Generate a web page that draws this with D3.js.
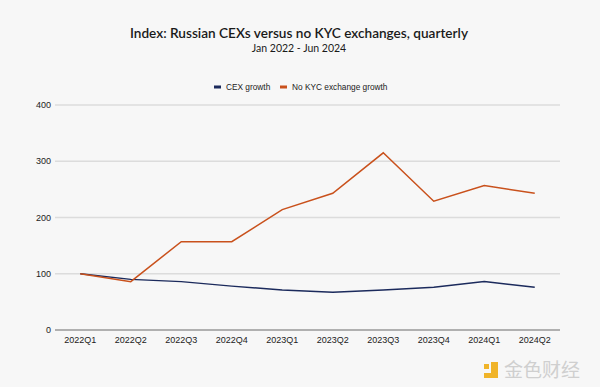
<!DOCTYPE html>
<html>
<head>
<meta charset="utf-8">
<style>
  body { margin: 0; background: #f7f7f7; }
  svg { display: block; font-family: Arial, "Liberation Sans", sans-serif; }
  .grid line { stroke: #dcdcdc; stroke-width: 1.3; }
  .axis text { fill: #222; font-size: 9px; }
  .series { fill: none; stroke-width: 1.5; }
</style>
<script src="https://d3js.org/d3.v7.min.js"></script>
</head>
<body>
<div id="chart"></div>
<script>
var quarters = ["2022Q1", "2022Q2", "2022Q3", "2022Q4", "2023Q1", "2023Q2", "2023Q3", "2023Q4", "2024Q1", "2024Q2"];
var cexGrowth = [100, 90, 86, 78, 71, 67, 71, 76, 86, 76];
var noKycGrowth = [100, 86, 157, 157, 214, 243, 315, 229, 257, 243];
var yTicks = [0, 100, 200, 300, 400];

var width = 600, height = 387;
var margin = {top: 105, right: 40, bottom: 57, left: 55};

var svg = d3.select("#chart").append("svg")
    .attr("width", width)
    .attr("height", height);

svg.append("rect").attr("width", width).attr("height", height).attr("fill", "#f7f7f7");

var x = d3.scaleBand()
    .domain(quarters)
    .range([margin.left, width - margin.right]);

var y = d3.scaleLinear()
    .domain([0, 400])
    .range([height - margin.bottom, margin.top]);

// title
svg.append("text")
    .attr("x", 299).attr("y", 38)
    .attr("text-anchor", "middle")
    .style("font-family", "Lato, 'Open Sans', sans-serif")
    .style("font-size", "13.6px")
    .style("font-weight", "600")
    .attr("fill", "#1a1a1a")
    .text("Index: Russian CEXs versus no KYC exchanges, quarterly");

svg.append("text")
    .attr("x", 299).attr("y", 52)
    .attr("text-anchor", "middle")
    .style("font-family", "Lato, 'Open Sans', sans-serif")
    .style("font-size", "10.5px")
    .attr("fill", "#1a1a1a")
    .text("Jan 2022 - Jun 2024");

// legend
var legend = [
  {name: "CEX growth", color: "#1b2a5c", x: 214},
  {name: "No KYC exchange growth", color: "#c9511c", x: 280}
];
var lg = svg.selectAll(".legend").data(legend).enter().append("g")
    .attr("transform", function(d) { return "translate(" + d.x + ",87)"; });
lg.append("rect").attr("x", 0).attr("y", -1.5).attr("width", 7).attr("height", 3)
    .attr("fill", function(d) { return d.color; });
lg.append("text").attr("x", 12).attr("y", 3)
    .style("font-size", "8.3px").attr("fill", "#222")
    .text(function(d) { return d.name; });

// gridlines
svg.append("g").attr("class", "grid")
  .selectAll("line").data(yTicks.slice(1)).enter().append("line")
    .attr("x1", margin.left).attr("x2", width - margin.right)
    .attr("y1", function(d) { return y(d); })
    .attr("y2", function(d) { return y(d); });

// y axis labels
svg.append("g").attr("class", "axis")
  .selectAll("text").data(yTicks).enter().append("text")
    .attr("x", margin.left - 4)
    .attr("y", function(d) { return y(d) + 3; })
    .attr("text-anchor", "end")
    .text(function(d) { return d; });

// baseline
svg.append("line")
    .attr("x1", margin.left).attr("x2", width - margin.right)
    .attr("y1", y(0)).attr("y2", y(0))
    .attr("stroke", "#999").attr("stroke-width", 1.3);

// x axis
var xAxis = svg.append("g").attr("class", "axis")
    .attr("transform", "translate(0," + y(0) + ")")
    .call(d3.axisBottom(x).tickSize(0).tickPadding(7));
xAxis.select(".domain").remove();

var line = d3.line()
    .x(function(d, i) { return x(quarters[i]) + x.bandwidth() / 2; })
    .y(function(d) { return y(d); });

svg.append("path").datum(cexGrowth)
    .attr("class", "series")
    .attr("stroke", "#1b2a5c")
    .attr("d", line);

svg.append("path").datum(noKycGrowth)
    .attr("class", "series")
    .attr("stroke", "#c9511c")
    .attr("d", line);

// watermark
var wm = svg.append("g").attr("transform", "translate(484,362)");
wm.append("rect").attr("x", 7).attr("y", 0).attr("width", 7).attr("height", 16).attr("fill", "#f0b429");
wm.append("rect").attr("x", 0).attr("y", 11).attr("width", 14).attr("height", 5).attr("fill", "#f0b429");
wm.append("rect").attr("x", 0).attr("y", 2).attr("width", 5).attr("height", 5).attr("fill", "#f0b429");
wm.append("text").attr("x", 20).attr("y", 15)
    .style("font-family", "'Noto Sans CJK SC', sans-serif")
    .style("font-size", "19px")
    .attr("fill", "#cfcfcf")
    .text("金色财经");
</script>
</body>
</html>
